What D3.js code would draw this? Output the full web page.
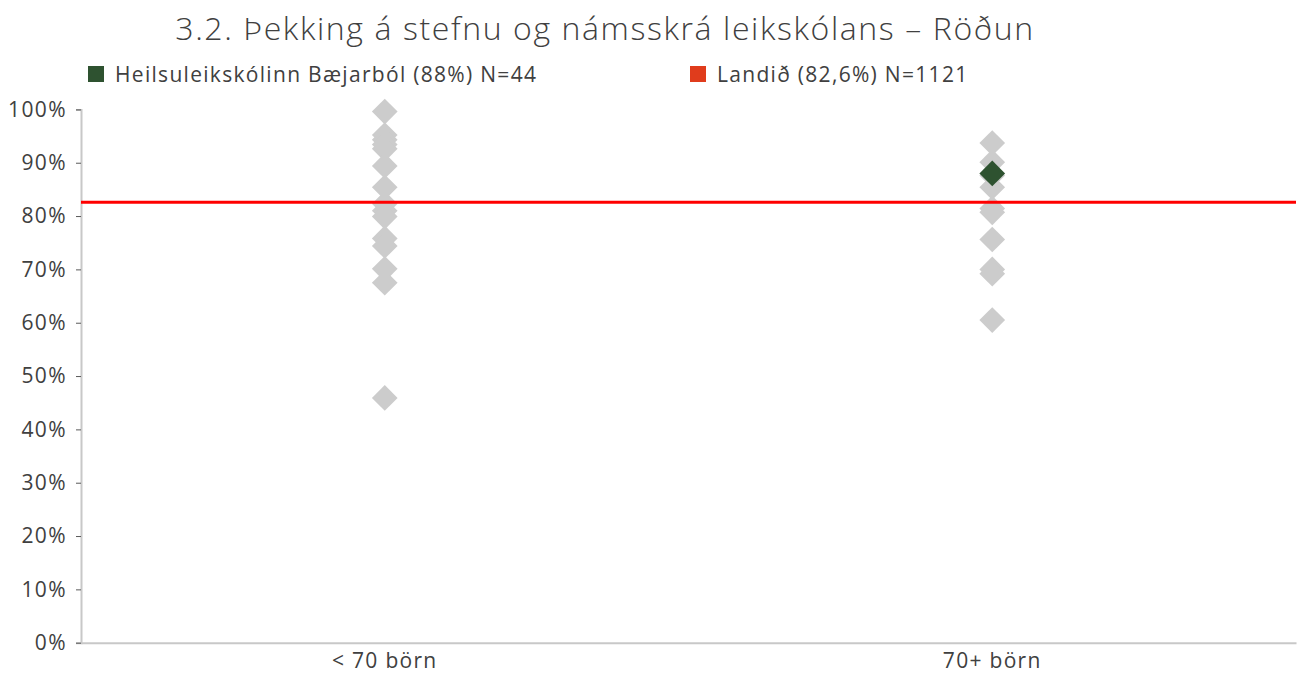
<!DOCTYPE html>
<html>
<head>
<meta charset="utf-8">
<script src="https://cdn.jsdelivr.net/npm/d3@7"></script>
<style>
  html, body { margin: 0; padding: 0; background: #fff; }
  svg { display: block; }
  text { font-family: "Open Sans", Lato, sans-serif; fill: #404040; font-weight: 400; }
</style>
</head>
<body>
<svg id="chart" width="1306" height="673"></svg>
<script>
// Category groups on the x axis
const categories = ["< 70 börn", "70+ börn"];

// Scores (%) of every preschool in each group
const smallSchools = [99.6, 95.2, 94.3, 93.4, 92.6, 89.4, 85.4, 82.3, 81.0, 79.9, 75.8, 74.4, 70.1, 67.5, 45.9];
const largeSchools = [93.7, 90.1, 87.6, 85.4, 81.4, 80.7, 75.6, 70.0, 69.2, 60.5];

// The highlighted school and the national average
const schoolName = "Heilsuleikskólinn Bæjarból";
const schoolCategory = "70+ börn";
const schoolValue = 88;
const schoolN = 44;
const nationalValue = 82.6;
const nationalN = 1121;

const yTicks = [0, 10, 20, 30, 40, 50, 60, 70, 80, 90, 100];

const svg = d3.select("#chart");
const margin = { left: 81, right: 10, top: 109.4, bottom: 30.3 };
const W = 1306, H = 673;
const FONT = "'Open Sans', Lato, sans-serif";

const x = d3.scaleBand().domain(categories).range([margin.left, W - margin.right]);
const y = d3.scaleLinear().domain([0, 100]).range([H - margin.bottom, margin.top]);

// Title
svg.append("text")
  .attr("x", 605).attr("y", 40)
  .attr("text-anchor", "middle")
  .style("font-size", "32px")
  .style("font-weight", 300)
  .style("letter-spacing", "1.6px")
  .text("3.2. Þekking á stefnu og námsskrá leikskólans – Röðun");

// Legend
const fmt1 = v => d3.format(".1f")(v).replace(".", ",");
const legend = [
  { color: "#2e5230", x: 88, label: `${schoolName} (${d3.format(".0f")(schoolValue)}%) N=${schoolN}` },
  { color: "#e03c1c", x: 690, label: `Landið (${fmt1(nationalValue)}%) N=${nationalN}` }
];
const lg = svg.append("g").selectAll("g").data(legend).join("g")
  .attr("transform", d => `translate(${d.x},66)`);
lg.append("rect").attr("width", 16).attr("height", 16).attr("fill", d => d.color);
lg.append("text").attr("x", 27).attr("y", 15.5)
  .style("font-size", "21px")
  .style("letter-spacing", "1.3px")
  .text(d => d.label);

// Y axis
const yAxis = svg.append("g")
  .attr("transform", `translate(${margin.left},0)`)
  .call(d3.axisLeft(y).tickValues(yTicks).tickFormat(d => d + "%").tickSize(5).tickPadding(9));
yAxis.select(".domain").attr("stroke", "#c8c8c8").attr("stroke-width", 2);
yAxis.selectAll(".tick line").attr("stroke", "#595959");
yAxis.selectAll(".tick text").style("font-size", "21px").attr("fill", "#404040")
  .style("font-family", FONT).style("font-weight", 400).style("letter-spacing", "1.4px");

// X axis
const xAxis = svg.append("g")
  .attr("transform", `translate(0,${y(0)})`)
  .call(d3.axisBottom(x).tickSize(0).tickPadding(10));
xAxis.select(".domain").attr("stroke", "#c8c8c8").attr("stroke-width", 2);
xAxis.selectAll(".tick text").style("font-size", "21px").attr("fill", "#404040")
  .style("font-family", FONT).style("font-weight", 400).style("letter-spacing", "1.3px");

// Diamonds for every school
const points = [
  ...smallSchools.map(v => ({ cat: categories[0], v })),
  ...largeSchools.map(v => ({ cat: categories[1], v }))
];
const diamond = d3.symbol().type(d3.symbolSquare).size(330);
svg.append("g").selectAll("path").data(points).join("path")
  .attr("d", diamond)
  .attr("fill", "#cccccc")
  .attr("transform", d => `translate(${x(d.cat) + x.bandwidth() / 2},${y(d.v)}) rotate(45)`);

// National average line
svg.append("line")
  .attr("x1", margin.left).attr("x2", W - margin.right)
  .attr("y1", y(nationalValue)).attr("y2", y(nationalValue))
  .attr("stroke", "#ff0000").attr("stroke-width", 3);

// Highlighted school
svg.append("path")
  .attr("d", diamond)
  .attr("fill", "#2e5230")
  .attr("transform", `translate(${x(schoolCategory) + x.bandwidth() / 2},${y(schoolValue)}) rotate(45)`);
</script>
</body>
</html>
